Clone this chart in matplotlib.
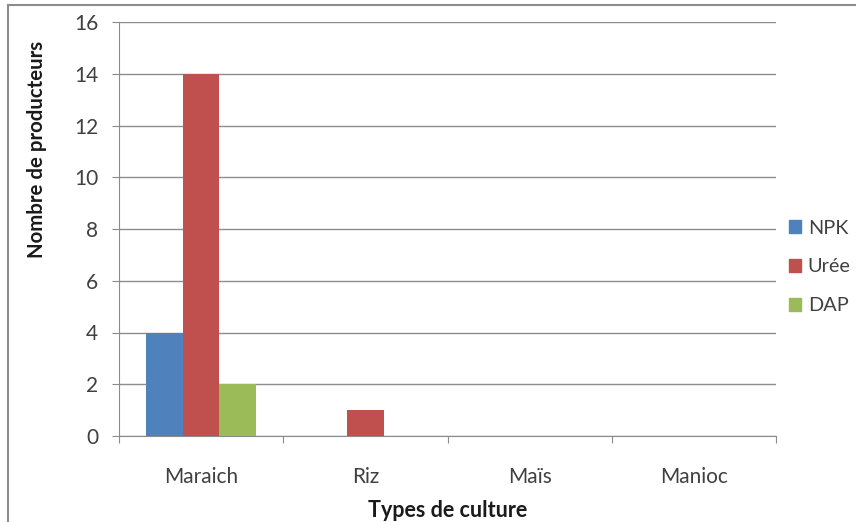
import matplotlib.pyplot as plt
import numpy as np
from matplotlib.patches import Patch

plt.rcParams['font.family'] = ['Lato', 'DejaVu Sans']

# data
categories = ["Maraich", "Riz", "Maïs", "Manioc"]
series = ["NPK", "Urée", "DAP"]
npk = [4, 0, 0, 0]
uree = [14, 1, 0, 0]
dap = [2, 0, 0, 0]
colors = ["#4F81BD", "#C0504D", "#9BBB59"]

fig = plt.figure(figsize=(8.56, 5.22), dpi=100)
ax = fig.add_axes([119/856, 1-436/522, (776-119)/856, (436-22)/522])

x = np.arange(len(categories))
w = 1/4.5
for i, vals in enumerate([npk, uree, dap]):
    ax.bar(x + (i-1)*w, vals, width=w, color=colors[i], zorder=3)

ax.set_xlim(-0.5, len(categories)-0.5)
ax.set_ylim(0, 16)
ax.set_yticks(range(0, 17, 2))
ax.set_xticks(np.arange(-0.5, len(categories), 1))
ax.set_xticklabels([])
ax.set_xticks(x, minor=True)
ax.set_xticklabels(categories, minor=True)

ax.grid(axis='y', color='#8c8c8c', linewidth=1, zorder=0)
for s in ['top', 'right']:
    ax.spines[s].set_visible(False)
for s in ['left', 'bottom']:
    ax.spines[s].set_color('#8c8c8c')
ax.tick_params(axis='y', length=5, color='#8c8c8c', labelsize=15, labelcolor='#404040', pad=10)
ax.tick_params(axis='x', which='major', length=5, color='#8c8c8c')
ax.tick_params(axis='x', which='minor', length=0, labelsize=15, labelcolor='#404040', pad=22)

# y title sits above the plot centre, as in the original
ax.set_ylabel("Nombre de producteurs", fontsize=14.7, fontweight='bold', color='#1a1a1a',
              va='center')
ax.yaxis.set_label_coords((37-119)/657, (436-149)/414)
ax.set_xlabel("Types de culture", fontsize=15.5, fontweight='bold', labelpad=10, color='#1a1a1a')

handles = [Patch(color=c, label=l) for c, l in zip(colors, series)]
fig.legend(handles=handles, loc='center left', bbox_to_anchor=(789/856, 1-267/522),
           frameon=False, fontsize=14.3, handlelength=0.6, handleheight=0.6,
           handletextpad=0.35, labelspacing=1.1, labelcolor='#404040',
           borderpad=0, borderaxespad=0)

# chart border (top and left visible)
fig.add_artist(plt.Line2D([8/856, 1], [1-5/522, 1-5/522], color='#8c8c8c', lw=1.5))
fig.add_artist(plt.Line2D([8/856, 8/856], [0, 1-5/522], color='#8c8c8c', lw=1.5))

fig.savefig("out.png", dpi=100)
